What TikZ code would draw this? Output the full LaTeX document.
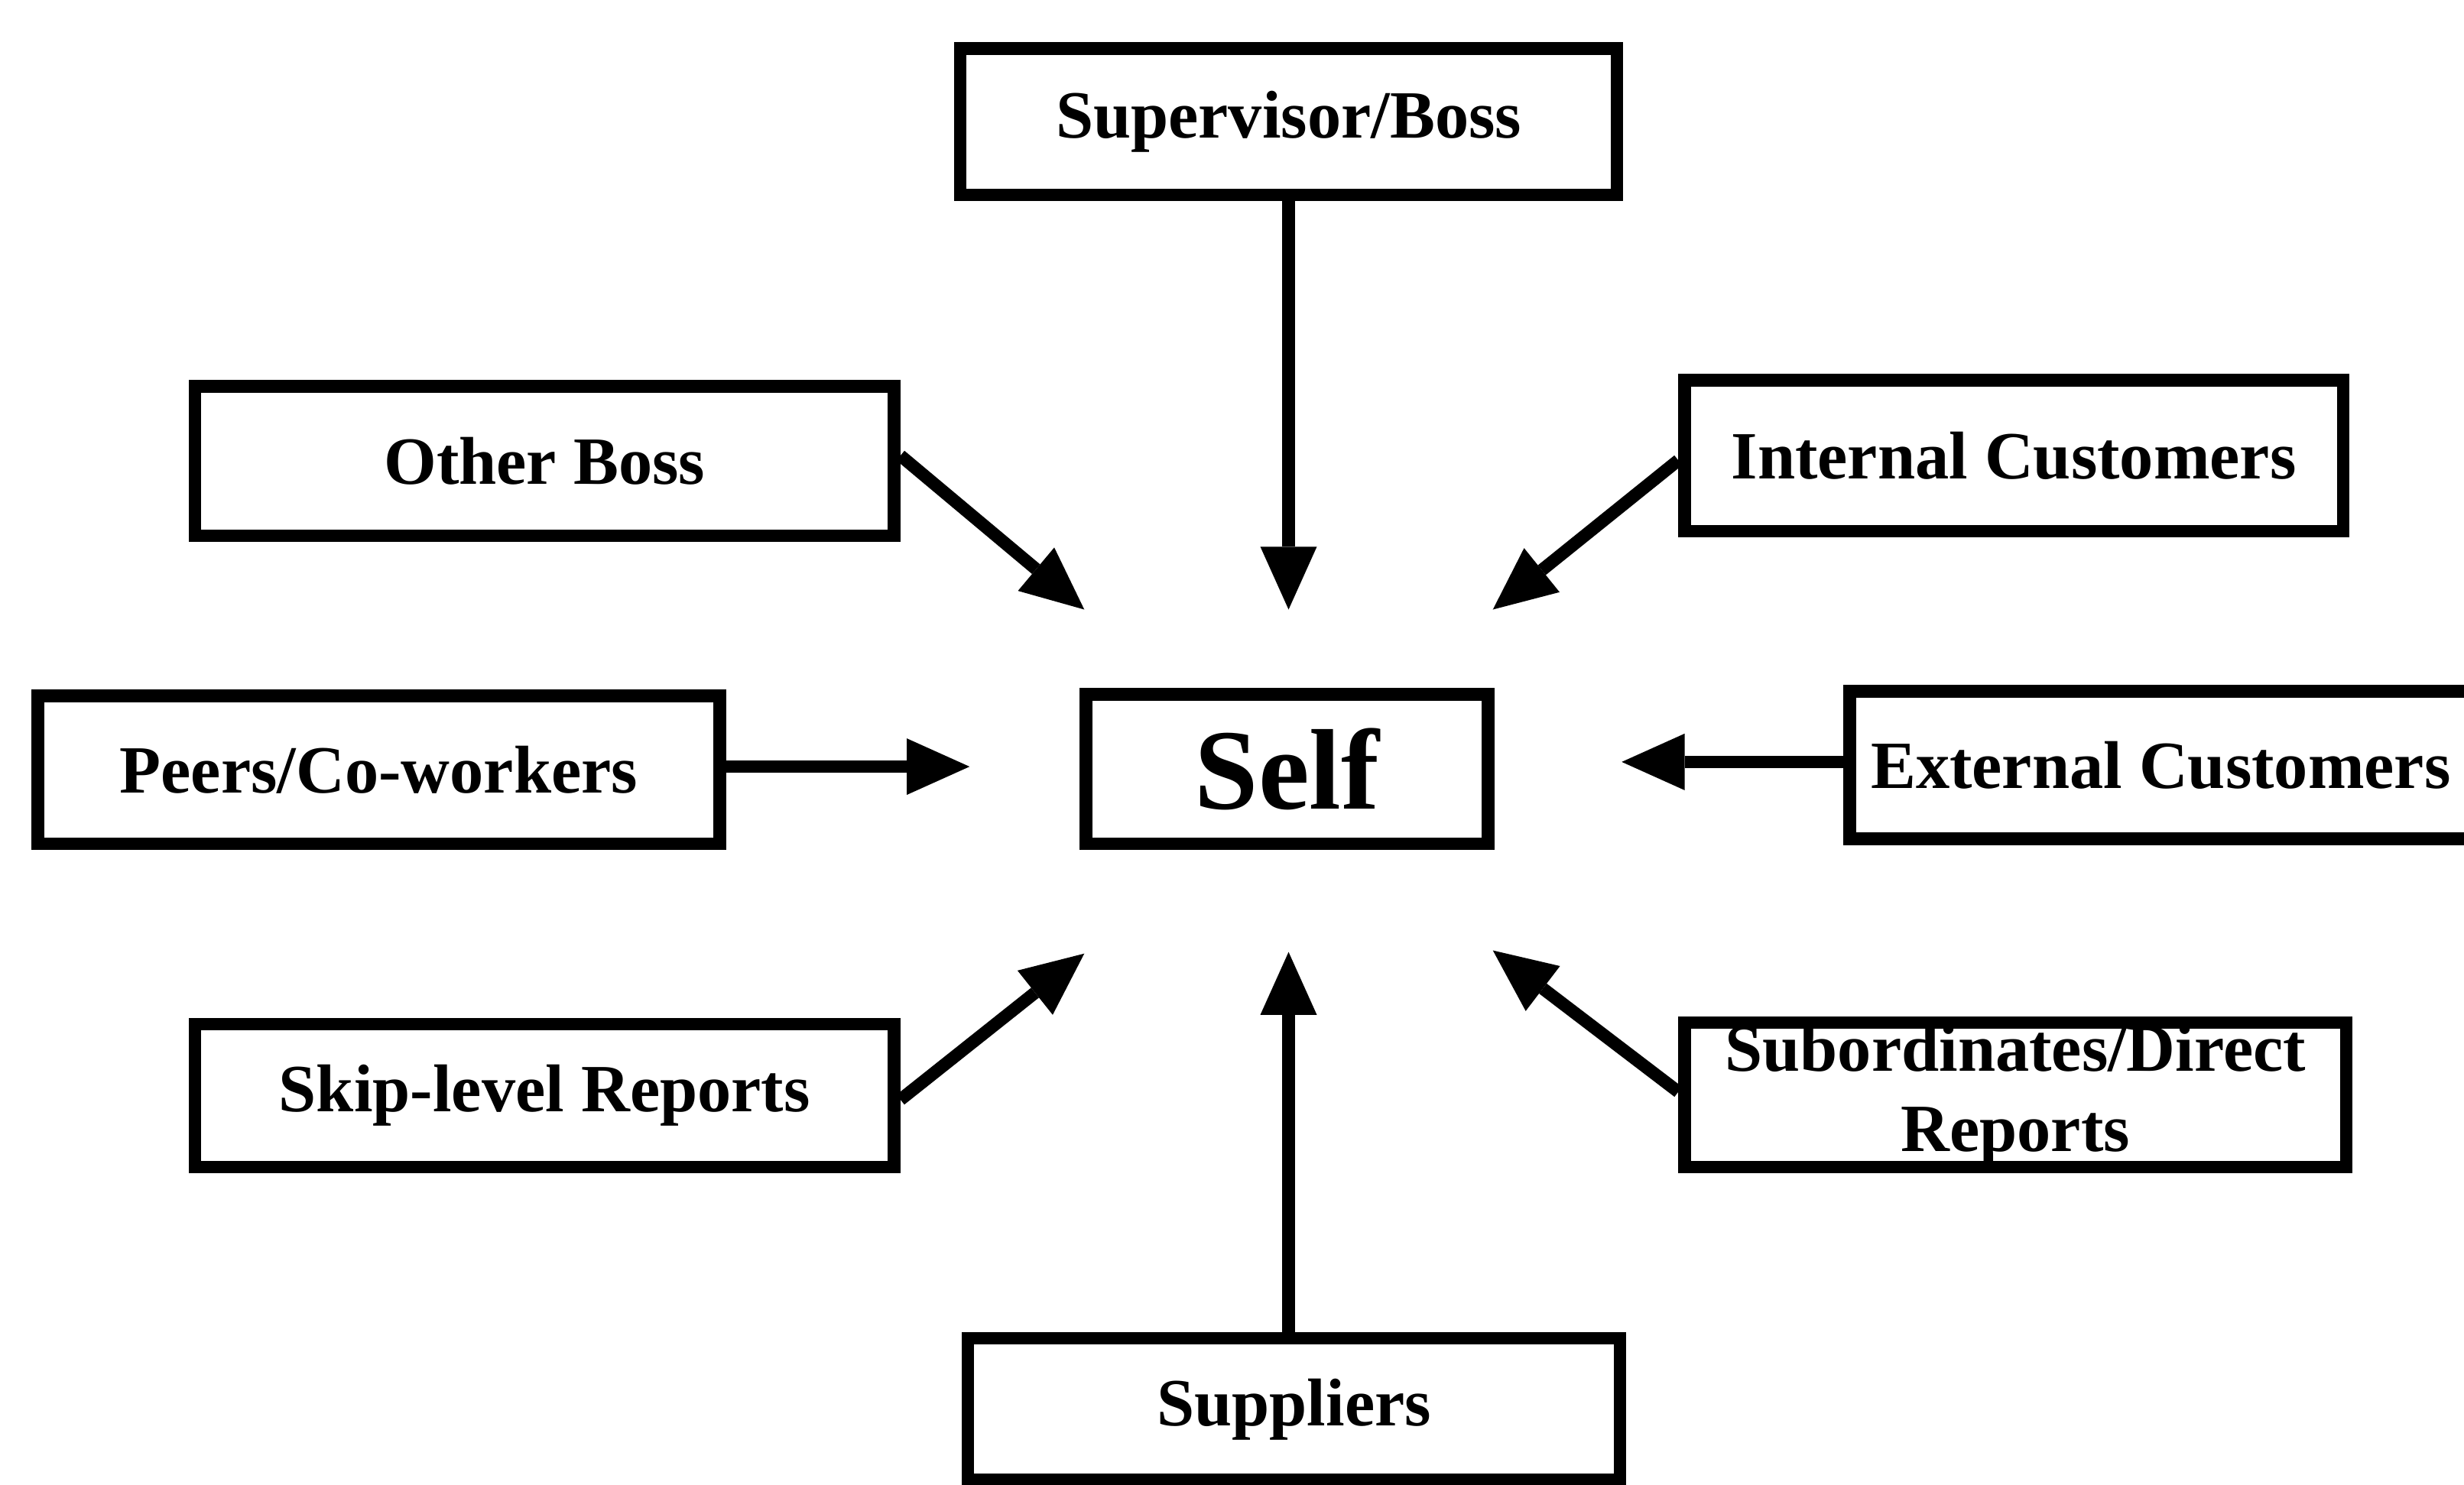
\documentclass[tikz,border=0pt]{standalone}
\usepackage{fontspec}
\setmainfont{Liberation Serif}
\usetikzlibrary{arrows.meta}
\begin{document}
\begin{tikzpicture}[x=0.5pt, y=-0.5pt]
\tikzset{
  box/.style={draw, line width=4pt, inner sep=0pt, align=center,
    font=\fontsize{21.5}{25.5}\selectfont\bfseries},
  link/.style={line width=4pt,
    -{Triangle[length=20pt, width=18pt, line width=0pt]}},
}
\useasboundingbox (0,0) rectangle (1568,945);
\clip (0,0) rectangle (1568,945);

% the rater boxes around the person being assessed
\node[box, minimum width=209pt,   minimum height=46.5pt] (boss)  at (820,77.5)    {Supervisor/Boss};
\node[box, minimum width=222.5pt, minimum height=47.5pt] (other) at (346.5,293.5) {Other Boss};
\node[box, minimum width=209.5pt, minimum height=48pt]   (intc)  at (1281.5,290)  {Internal Customers};
\node[box, minimum width=217pt,   minimum height=47pt]   (peers) at (241,490)     {Peers/Co-workers};
\node[box, minimum width=128pt,   minimum height=47.5pt,
      font=\fontsize{36.5}{40}\selectfont\bfseries]      (self)  at (819,489.5)   {Self};
\node[box, minimum width=198pt,   minimum height=47pt]   (extc)  at (1375,487)    {External Customers};
\node[box, minimum width=222.5pt, minimum height=45.5pt] (skip)  at (346.5,697.5) {Skip-level Reports};
\node[box, minimum width=210.5pt, minimum height=46pt]   (subs)  at (1282.5,697)  {Subordinates/Direct\\Reports};
\node[box, minimum width=207.5pt, minimum height=45pt]   (supp)  at (823.5,897)   {Suppliers};

% arrow tips stop short of the central box
\coordinate (tBoss)  at (820,388);
\coordinate (tOther) at (690,388);
\coordinate (tIntc)  at (950,388);
\coordinate (tPeers) at (617,488);
\coordinate (tExtc)  at (1032,485);
\coordinate (tSkip)  at (690,607);
\coordinate (tSubs)  at (950,605);
\coordinate (tSupp)  at (820,606);

\draw[link] (boss.south) -- (tBoss);
\draw[link] (other.east |- 0,290) -- (tOther);
\draw[link] (intc.west |- 0,293) -- (tIntc);
\draw[link] (peers.east |- 0,488) -- (tPeers);
\draw[link] (extc.west |- 0,485) -- (tExtc);
\draw[link] (skip.east |- 0,700) -- (tSkip);
\draw[link] (subs.west |- 0,695) -- (tSubs);
\draw[link] (supp.north -| tSupp) -- (tSupp);
\end{tikzpicture}
\end{document}
